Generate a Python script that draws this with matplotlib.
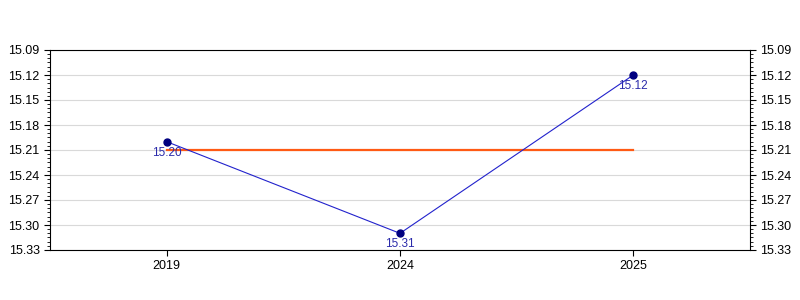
import matplotlib.pyplot as plt
import numpy as np
from matplotlib.ticker import MultipleLocator, FormatStrFormatter

plt.rcParams["font.family"] = ["Liberation Sans", "DejaVu Sans"]

years = ["2019", "2024", "2025"]
values = [15.20, 15.31, 15.12]
mean_value = 15.21

fig = plt.figure(figsize=(8, 3), dpi=100)
ax = fig.add_axes([50 / 800, 50 / 300, 700 / 800, 200 / 300])

x = np.arange(len(years))
ax.plot(x, [mean_value] * len(x), color="#ff5a14", lw=1.6, zorder=2)
ax.plot(x, values, color="#2222cc", lw=0.8, marker="o", ms=5,
        mfc="#000080", mec="#000080", zorder=3)
for xi, v in zip(x, values):
    ax.annotate(f"{v:.2f}", (xi, v), xytext=(0, -3.5), textcoords="offset points",
                ha="center", va="top", fontsize=8.5, color="#2a2aaa")

ax.set_xlim(-0.5, len(years) - 0.5)
ax.set_xticks(x)
ax.set_xticklabels(years)
ax.set_ylim(15.33, 15.09)
ax.yaxis.set_major_locator(MultipleLocator(0.03))
ax.yaxis.set_minor_locator(MultipleLocator(0.005))
ax.yaxis.set_major_formatter(FormatStrFormatter("%.2f"))
ax.grid(axis="y", color="#d9d9d9", lw=0.8)
ax.set_axisbelow(True)

ax.tick_params(axis="both", which="major", labelsize=9, length=4, color="black")
ax.tick_params(axis="y", which="minor", length=2)
ax.tick_params(axis="y", which="both", right=True, labelright=True)
ax.tick_params(axis="x", which="minor", bottom=False)

fig.savefig("out.png", dpi=100)
